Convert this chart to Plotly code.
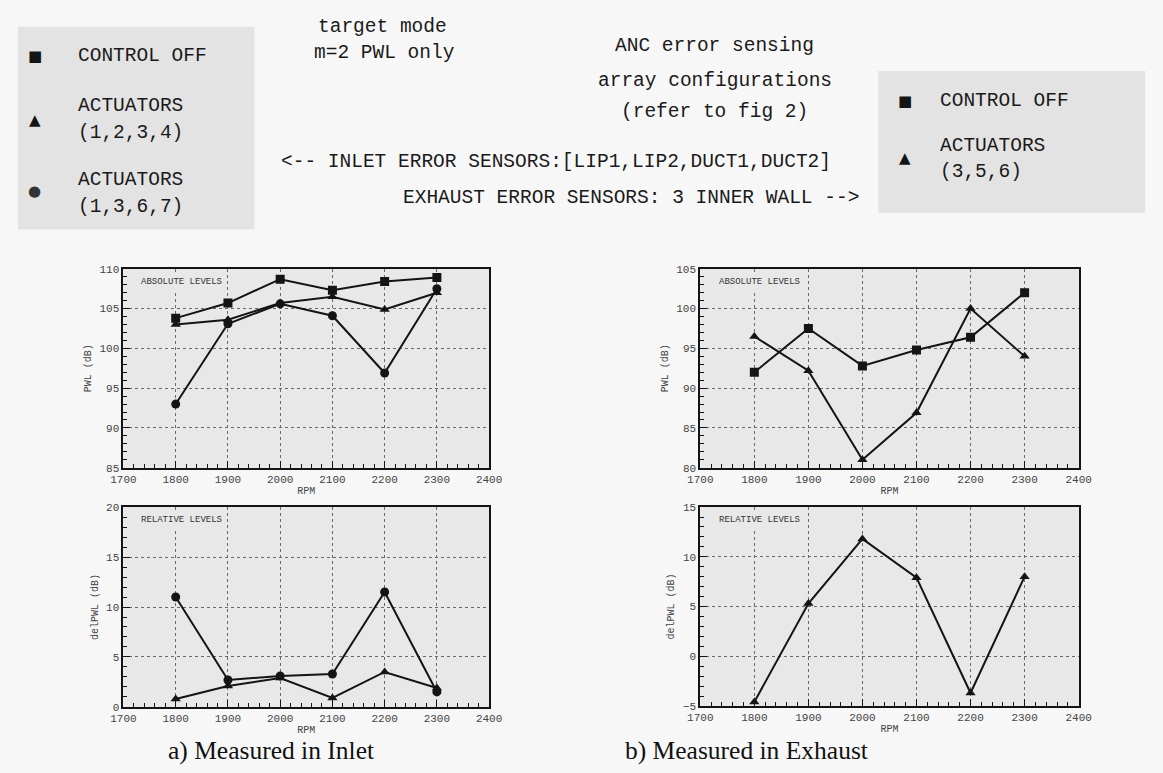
import plotly.graph_objects as go

# ---------------- data ----------------
rpm = [1800, 1900, 2000, 2100, 2200, 2300]

# a) Measured in Inlet - absolute levels PWL (dB)
inlet_off = [103.8, 105.7, 108.7, 107.3, 108.4, 108.9]
inlet_act1234 = [103.0, 103.6, 105.7, 106.5, 104.9, 107.0]
inlet_act1367 = [93.0, 103.1, 105.6, 104.1, 96.9, 107.5]
# a) relative levels delPWL (dB)
inlet_rel_act1234 = [0.8, 2.1, 2.9, 0.9, 3.5, 1.9]
inlet_rel_act1367 = [11.0, 2.7, 3.1, 3.3, 11.5, 1.5]

# b) Measured in Exhaust - absolute levels PWL (dB)
exh_off = [92.0, 97.5, 92.8, 94.8, 96.4, 102.0]
exh_act356 = [96.5, 92.2, 81.0, 86.9, 100.0, 94.0]
# b) relative levels delPWL (dB)
exh_rel_act356 = [-4.6, 5.3, 11.8, 7.9, -3.7, 8.0]

x_range = [1700, 2400]
y_ranges = {"a_abs": [85, 110], "b_abs": [80, 105], "a_rel": [0, 20], "b_rel": [-5, 15]}

# ---------------- style ----------------
W, H = 1163, 773
PAGE_BG = "#f7f7f7"
PLOT_BG = "#e8e8e8"
BOX_BG = "#e3e3e3"
INK = "#141414"
MONO = "Liberation Mono, Courier New, monospace"
SERIF = "Liberation Serif, Times New Roman, serif"
HEAD = 19.5


def px_x(p):
    return p / W


def px_y(p):
    return 1 - p / H


panels = {
    # name: (axis suffix, x px range, y px range(top,bottom))
    "a_abs": ("", (113, 487), (268, 470)),
    "b_abs": ("2", (703, 1090), (268, 470)),
    "a_rel": ("3", (113, 487), (510, 713)),
    "b_rel": ("4", (703, 1090), (510, 712)),
}

fig = go.Figure()


def add_series(sfx, yvals, symbol, size):
    fig.add_trace(go.Scatter(
        x=rpm, y=yvals, mode="lines+markers",
        xaxis="x" + sfx, yaxis="y" + sfx,
        line=dict(color=INK, width=2),
        marker=dict(symbol=symbol, size=size, color=INK),
        showlegend=False, hoverinfo="x+y",
    ))


add_series("", inlet_off, "square", 9)
add_series("", inlet_act1234, "triangle-up", 9)
add_series("", inlet_act1367, "circle", 9)
add_series("2", exh_off, "square", 9)
add_series("2", exh_act356, "triangle-up", 9)
add_series("3", inlet_rel_act1367, "circle", 9)
add_series("3", inlet_rel_act1234, "triangle-up", 9)
add_series("4", exh_rel_act356, "triangle-up", 9)

layout = dict(
    width=W, height=H, autosize=False,
    margin=dict(l=0, r=0, t=0, b=0),
    paper_bgcolor=PAGE_BG, plot_bgcolor=PLOT_BG,
    showlegend=False,
)

ytitles = {"a_abs": "PWL (dB)", "b_abs": "PWL (dB)", "a_rel": "delPWL (dB)", "b_rel": "delPWL (dB)"}
labels = {"a_abs": "ABSOLUTE LEVELS", "b_abs": "ABSOLUTE LEVELS", "a_rel": "RELATIVE LEVELS", "b_rel": "RELATIVE LEVELS"}

annotations = []
shapes = []
for name, (sfx, (x0, x1), (yt, yb)) in panels.items():
    xa = "xaxis" + sfx
    ya = "yaxis" + sfx
    tickfont = dict(family=MONO, size=11, color="#444")
    layout[xa] = dict(
        domain=[px_x(x0), px_x(x1)], anchor="y" + sfx, range=x_range,
        dtick=100, tick0=1700, ticks="inside", ticklen=7, tickcolor=INK, tickwidth=1,
        minor=dict(dtick=20, ticks="inside", ticklen=4, tickcolor=INK, showgrid=False),
        showgrid=True, gridcolor="#6a6a6a", griddash="dot", gridwidth=1,
        showline=True, linecolor=INK, linewidth=2, mirror=True,
        zeroline=False, tickfont=tickfont,
        title=dict(text="RPM", font=dict(family=MONO, size=10, color="#444"), standoff=2),
        fixedrange=True,
    )
    yr = y_ranges[name]
    layout[ya] = dict(
        domain=[px_y(yb), px_y(yt)], anchor="x" + sfx, range=yr,
        dtick=5, ticks="inside", ticklen=7, tickcolor=INK, tickwidth=1,
        minor=dict(dtick=1, ticks="inside", ticklen=4, tickcolor=INK, showgrid=False),
        showgrid=True, gridcolor="#6a6a6a", griddash="dot", gridwidth=1,
        showline=True, linecolor=INK, linewidth=2, mirror=True,
        zeroline=False, tickfont=tickfont,
        title=dict(text=ytitles[name], font=dict(family=MONO, size=10, color="#444"), standoff=6),
        fixedrange=True,
    )
    annotations.append(dict(
        xref=("x" + sfx) + " domain", yref=("y" + sfx) + " domain",
        x=0.035, y=0.985, xanchor="left", yanchor="top",
        text=labels[name], showarrow=False,
        font=dict(family=MONO, size=9, color="#333"),
        bgcolor=PLOT_BG, borderpad=4,
    ))

# ---------------- header legends & texts ----------------
shapes.append(dict(type="rect", xref="paper", yref="paper",
                   x0=px_x(5), x1=px_x(247), y0=px_y(228), y1=px_y(22),
                   fillcolor=BOX_BG, line=dict(width=0), layer="below"))
shapes.append(dict(type="rect", xref="paper", yref="paper",
                   x0=px_x(885), x1=px_x(1158), y0=px_y(211), y1=px_y(67),
                   fillcolor=BOX_BG, line=dict(width=0), layer="below"))


def txt(x, y, s, size=HEAD, anchor="left", family=MONO, color="#1a1a1a"):
    annotations.append(dict(xref="paper", yref="paper", x=px_x(x), y=px_y(y),
                            xanchor=anchor, yanchor="middle", text=s, showarrow=False,
                            font=dict(family=family, size=size, color=color)))


GLYPH = "DejaVu Sans, sans-serif"
# left legend
txt(22, 52, "■", 15, "center", GLYPH, INK)
txt(64, 52, "CONTROL OFF")
txt(22, 117, "▲", 15, "center", GLYPH, INK)
txt(64, 103, "ACTUATORS")
txt(64, 130, "(1,2,3,4)")
txt(22, 189, "●", 15, "center", GLYPH, "#333")
txt(64, 178, "ACTUATORS")
txt(64, 205, "(1,3,6,7)")
# right legend
txt(912, 98, "■", 15, "center", GLYPH, INK)
txt(946, 98, "CONTROL OFF")
txt(912, 155, "▲", 15, "center", GLYPH, INK)
txt(946, 143, "ACTUATORS")
txt(946, 170, "(3,5,6)")
# middle texts
txt(310, 22, "target mode")
txt(306, 49, "m=2 PWL only")
txt(718, 42, "ANC error sensing", anchor="center")
txt(718, 77, "array configurations", anchor="center")
txt(718, 109, "(refer to fig 2)", anchor="center")
txt(555, 159, "&lt;-- INLET ERROR SENSORS:[LIP1,LIP2,DUCT1,DUCT2]", anchor="center")
txt(632, 196, "EXHAUST ERROR SENSORS: 3 INNER WALL --&gt;", anchor="center")
# captions
txt(264, 757, "a) Measured in Inlet", 25.5, "center", SERIF, "#111")
txt(750, 757, "b) Measured in Exhaust", 25.5, "center", SERIF, "#111")

layout["annotations"] = annotations
layout["shapes"] = shapes
fig.update_layout(**layout)

fig.write_html("out.html", config={"displayModeBar": False})
